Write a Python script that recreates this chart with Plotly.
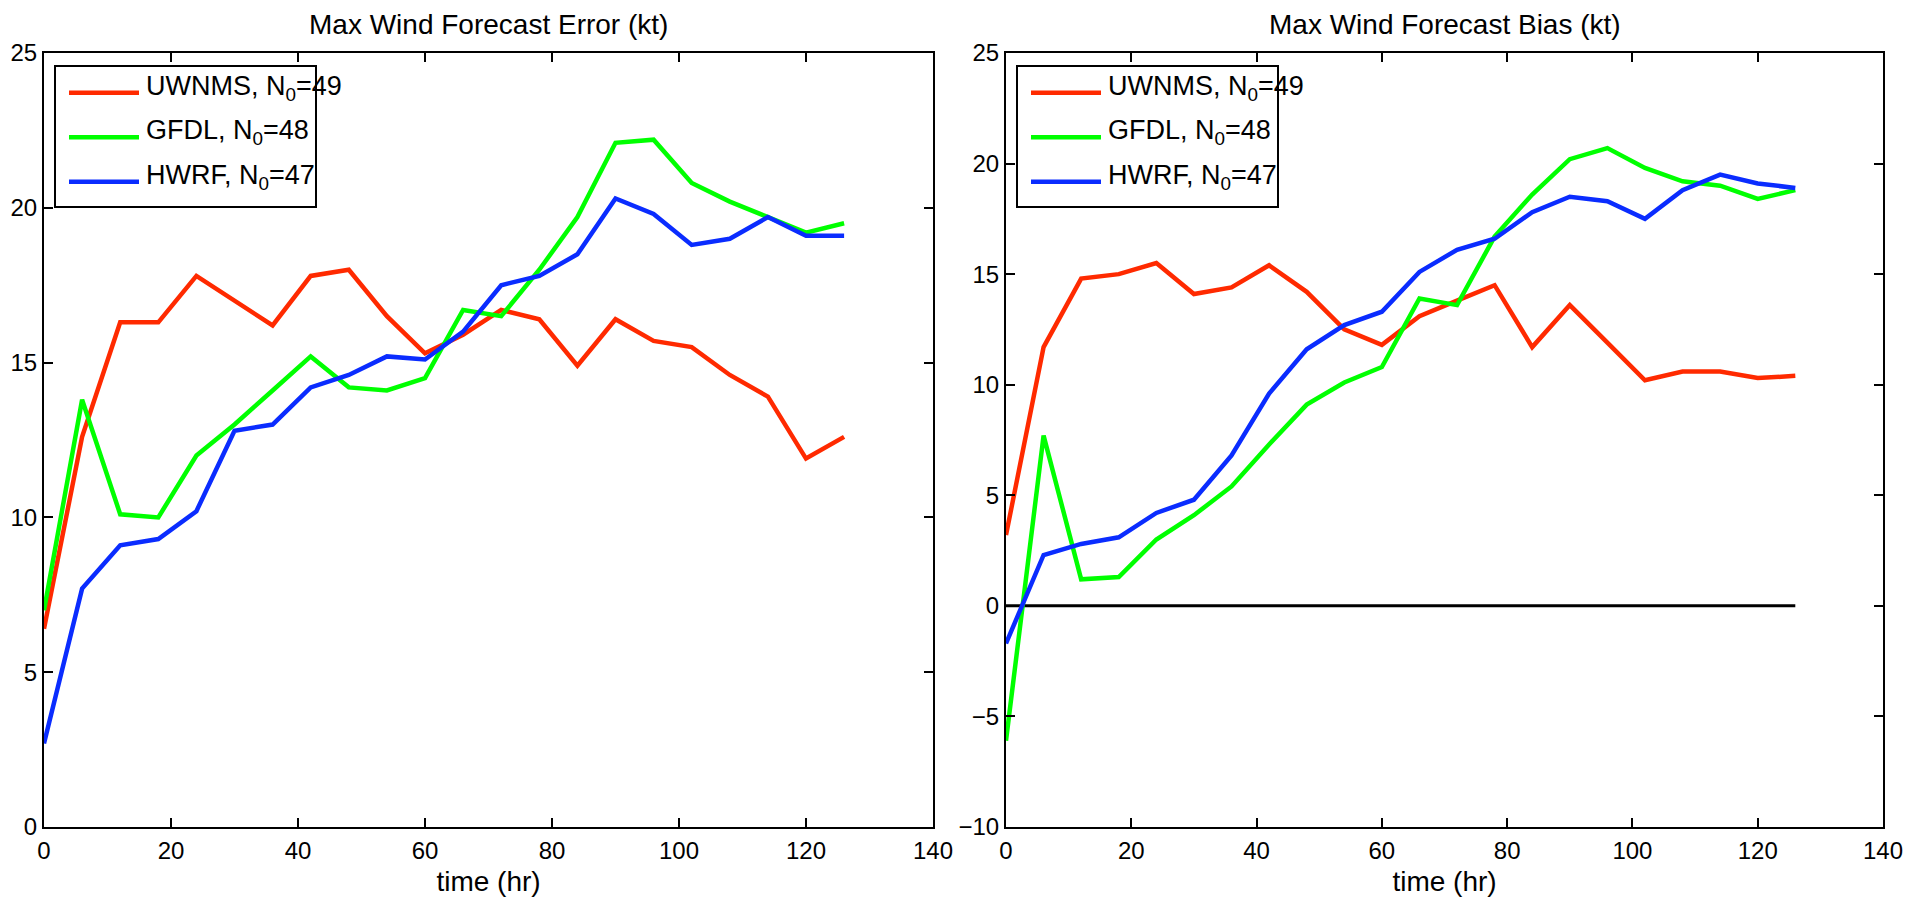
import plotly.graph_objects as go

# ---- data ----
hours = [0, 6, 12, 18, 24, 30, 36, 42, 48, 54, 60, 66, 72, 78, 84, 90, 96, 102, 108, 114, 120, 126]

err_uwnms = [6.4, 12.6, 16.3, 16.3, 17.8, 17.0, 16.2, 17.8, 18.0, 16.5, 15.3, 15.9, 16.7, 16.4, 14.9, 16.4, 15.7, 15.5, 14.6, 13.9, 11.9, 12.6]
err_gfdl = [7.0, 13.8, 10.1, 10.0, 12.0, 13.0, 14.1, 15.2, 14.2, 14.1, 14.5, 16.7, 16.5, 18.0, 19.7, 22.1, 22.2, 20.8, 20.2, 19.7, 19.2, 19.5]
err_hwrf = [2.7, 7.7, 9.1, 9.3, 10.2, 12.8, 13.0, 14.2, 14.6, 15.2, 15.1, 16.0, 17.5, 17.8, 18.5, 20.3, 19.8, 18.8, 19.0, 19.7, 19.1, 19.1]

bias_uwnms = [3.2, 11.7, 14.8, 15.0, 15.5, 14.1, 14.4, 15.4, 14.2, 12.5, 11.8, 13.1, 13.8, 14.5, 11.7, 13.6, 11.9, 10.2, 10.6, 10.6, 10.3, 10.4]
bias_gfdl = [-6.1, 7.7, 1.2, 1.3, 3.0, 4.1, 5.4, 7.3, 9.1, 10.1, 10.8, 13.9, 13.6, 16.7, 18.6, 20.2, 20.7, 19.8, 19.2, 19.0, 18.4, 18.8]
bias_hwrf = [-1.7, 2.3, 2.8, 3.1, 4.2, 4.8, 6.8, 9.6, 11.6, 12.7, 13.3, 15.1, 16.1, 16.6, 17.8, 18.5, 18.3, 17.5, 18.8, 19.5, 19.1, 18.9]

zero_x = [0, 126]
zero_y = [0, 0]

names = ["UWNMS, N<sub>0</sub>=49", "GFDL, N<sub>0</sub>=48", "HWRF, N<sub>0</sub>=47"]
colors = ["#ff2a00", "#00ff00", "#0a2cff"]

x_ticks = [0, 20, 40, 60, 80, 100, 120, 140]
err_ticks = [0, 5, 10, 15, 20, 25]
bias_ticks = [-10, -5, 0, 5, 10, 15, 20, 25]

titles = ["Max Wind Forecast Error (kt)", "Max Wind Forecast Bias (kt)"]
xlabel = "time (hr)"

# ---- figure geometry (page pixels; the page body adds an 8px offset) ----
W, H = 1925, 903
OFF = 8
AX_TOP, AX_BOT = 53 - OFF, 827 - OFF
MT, MB = AX_TOP, H - AX_BOT
PH = H - MT - MB
FONT = "Liberation Sans, Arial, Helvetica, sans-serif"


def px(xp):
    return (xp - OFF) / W


def py(yp):
    return (AX_BOT - (yp - OFF)) / PH


fig = go.Figure()

for name, col, ys in zip(names, colors, [err_uwnms, err_gfdl, err_hwrf]):
    fig.add_trace(go.Scatter(x=hours, y=ys, mode="lines", name=name,
                             line=dict(color=col, width=4.5), xaxis="x", yaxis="y",
                             showlegend=False))

fig.add_trace(go.Scatter(x=zero_x, y=zero_y, mode="lines", showlegend=False,
                         line=dict(color="black", width=3), xaxis="x2", yaxis="y2",
                         hoverinfo="skip"))

for name, col, ys in zip(names, colors, [bias_uwnms, bias_gfdl, bias_hwrf]):
    fig.add_trace(go.Scatter(x=hours, y=ys, mode="lines", name=name,
                             line=dict(color=col, width=4.5), xaxis="x2", yaxis="y2",
                             showlegend=False))

axis_common = dict(showline=True, linecolor="black", linewidth=2, mirror="ticks",
                   ticks="inside", ticklen=9, tickwidth=1.5, tickcolor="black",
                   showgrid=False, zeroline=False, automargin=False,
                   tickfont=dict(family=FONT, size=24, color="black"))

left_dom = [px(44), px(933)]
right_dom = [px(1006), px(1883)]

fig.update_layout(
    width=W, height=H,
    margin=dict(l=0, r=0, t=MT, b=MB),
    paper_bgcolor="white", plot_bgcolor="white",
    font=dict(family=FONT, color="black"),
    showlegend=False,
    xaxis=dict(domain=left_dom, range=[0, 140], tickvals=x_ticks, anchor="y",
               ticklabelstandoff=1,
               title=dict(text=xlabel, font=dict(family=FONT, size=28), standoff=9),
               **axis_common),
    yaxis=dict(domain=[0, 1], range=[0, 25], tickvals=err_ticks, anchor="x",
               ticklabelstandoff=0, **axis_common),
    xaxis2=dict(domain=right_dom, range=[0, 140], tickvals=x_ticks, anchor="y2",
                ticklabelstandoff=1,
                title=dict(text=xlabel, font=dict(family=FONT, size=28), standoff=9),
                **axis_common),
    yaxis2=dict(domain=[0, 1], range=[-10, 25], tickvals=bias_ticks, anchor="x2",
                ticklabelstandoff=0, **axis_common),
)

for t, dom in zip(titles, [left_dom, right_dom]):
    fig.add_annotation(text=t, x=(dom[0] + dom[1]) / 2, y=py(24),
                       xref="paper", yref="paper", xanchor="center", yanchor="middle",
                       showarrow=False, font=dict(family=FONT, size=28, color="black"))

# ---- legends (one per panel, drawn as boxes with sample lines and labels) ----
legend_y = [92.7, 137.3, 181.7]
for x_off in [0, 962]:
    fig.add_shape(type="rect", xref="paper", yref="paper",
                  x0=px(55 + x_off), x1=px(316 + x_off), y0=py(66), y1=py(207),
                  line=dict(color="black", width=2), fillcolor="white", layer="above")
    for name, col, ly in zip(names, colors, legend_y):
        fig.add_shape(type="line", xref="paper", yref="paper",
                      x0=px(69 + x_off), x1=px(139 + x_off), y0=py(ly), y1=py(ly),
                      line=dict(color=col, width=4.5), layer="above")
        fig.add_annotation(text=name, x=px(144 + x_off), y=py(ly - 5),
                           xref="paper", yref="paper", xanchor="left", yanchor="middle",
                           showarrow=False, font=dict(family=FONT, size=27, color="black"))

fig.write_html("out.html")
